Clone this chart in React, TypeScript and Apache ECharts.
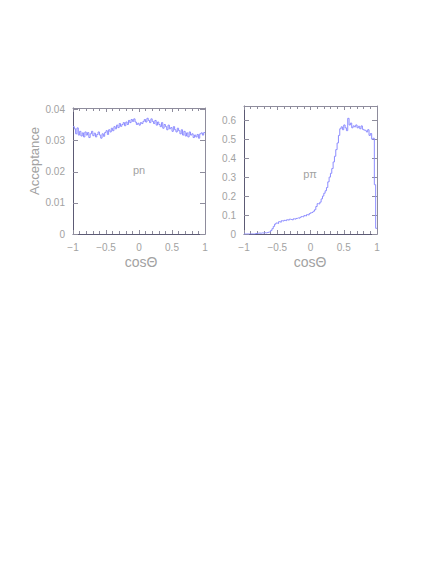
import React, { useEffect, useRef } from "react";
import * as echarts from "echarts";

// 100 bins of width 0.02 over cosθ ∈ [-1, 1]
const binStart = -1;
const binWidth = 0.02;

const pnAcceptance = [
  0.0345, 0.0338, 0.0322, 0.0341, 0.0318, 0.033, 0.0315, 0.0325, 0.0312, 0.0328,
  0.0318, 0.0326, 0.031, 0.0322, 0.033, 0.0316, 0.0324, 0.0312, 0.032, 0.0328,
  0.0318, 0.0308, 0.0322, 0.0314, 0.0326, 0.0332, 0.032, 0.0335, 0.0328, 0.034,
  0.0332, 0.0345, 0.0338, 0.035, 0.0342, 0.0355, 0.0346, 0.0352, 0.0358, 0.0348,
  0.036, 0.0352, 0.0365, 0.0358, 0.0368, 0.0362, 0.037, 0.036, 0.0352, 0.0356,
  0.035, 0.0358, 0.0355, 0.0362, 0.0368, 0.036, 0.0372, 0.0365, 0.0358, 0.037,
  0.0362, 0.0355, 0.0365, 0.035, 0.036, 0.0352, 0.0345, 0.0358, 0.034, 0.0352,
  0.0345, 0.0335, 0.035, 0.0338, 0.0342, 0.033, 0.0345, 0.0335, 0.0328, 0.034,
  0.0332, 0.0322, 0.0335, 0.0318, 0.033, 0.0315, 0.0325, 0.0312, 0.0328, 0.0318,
  0.0322, 0.031, 0.0318, 0.0312, 0.032, 0.0308, 0.0322, 0.0325, 0.0318, 0.0326,
];

const ppiAcceptance = [
  0, 0, 0, 0, 0, 0, 0, 0, 0.002, 0.003,
  0.004, 0.005, 0.004, 0.006, 0.005, 0.007, 0.006, 0.008, 0.01, 0.012,
  0.018, 0.028, 0.04, 0.052, 0.058, 0.055, 0.065, 0.062, 0.07, 0.068,
  0.072, 0.07, 0.075, 0.073, 0.078, 0.076, 0.074, 0.08, 0.078, 0.082,
  0.085, 0.083, 0.088, 0.092, 0.09, 0.097, 0.095, 0.102, 0.1, 0.108,
  0.112, 0.115, 0.12, 0.128, 0.145, 0.16, 0.158, 0.168, 0.185, 0.2,
  0.215, 0.228, 0.245, 0.275, 0.3, 0.32, 0.345, 0.38, 0.41, 0.445,
  0.48, 0.52, 0.555, 0.565, 0.55, 0.575, 0.56, 0.545, 0.61, 0.575,
  0.585, 0.56, 0.57, 0.565, 0.575, 0.56, 0.568, 0.555, 0.57, 0.552,
  0.548, 0.545, 0.538, 0.55, 0.52, 0.53, 0.5, 0.505, 0.26, 0.03,
];

const xTickValues = [-1, -0.5, 0, 0.5, 1];
const pnYTicks = [0, 0.01, 0.02, 0.03, 0.04];
const ppiYTicks = [0, 0.1, 0.2, 0.3, 0.4, 0.5, 0.6];

const panelLabels = ["pn", "pπ"];
const xTitle = "cosΘ";
const yTitle = "Acceptance";

const LINE_COLOR = "#8c8cff";
const AXIS_DARK = "#5c5a74";
const AXIS_LIGHT = "#8e8c9c";
const TEXT_COLOR = "#a2a2a2";
const FONT = "'Liberation Sans', Arial, sans-serif";

function stepData(values: number[]) {
  const pts: number[][] = values.map((v, i) => [binStart + i * binWidth, v]);
  pts.push([binStart + values.length * binWidth, values[values.length - 1]]);
  return pts;
}

function fmtX(v: number) {
  if (v < 0) return "\u2212" + String(Math.abs(v));
  return String(v);
}

export default function App() {
  const ref = useRef<HTMLDivElement>(null);
  useEffect(() => {
    if (!ref.current) return;
    const chart = echarts.init(ref.current, undefined, { renderer: "svg" });

    const grids = [
      { left: 73, top: 108, width: 132, height: 126 },
      { left: 244, top: 106, width: 133, height: 128 },
    ];

    const xAxisBase = (gridIndex: number, position: "top" | "bottom") => ({
      type: "value",
      gridIndex,
      position,
      min: xTickValues[0],
      max: xTickValues[xTickValues.length - 1],
      interval: 0.5,
      axisLine: {
        show: true,
        onZero: false,
        lineStyle: { color: position === "bottom" ? AXIS_DARK : AXIS_LIGHT, width: 1 },
      },
      axisTick: { show: true, inside: true, length: 4, lineStyle: { color: AXIS_LIGHT } },
      minorTick: { show: true, splitNumber: 5, length: 3, lineStyle: { color: AXIS_LIGHT } },
      axisLabel: {
        show: position === "bottom",
        formatter: fmtX,
        color: TEXT_COLOR,
        fontFamily: FONT,
        fontSize: 10,
        margin: 8,
      },
      splitLine: { show: false },
      minorSplitLine: { show: false },
    });

    const yAxisBase = (
      gridIndex: number,
      position: "left" | "right",
      max: number,
      ticks: number[],
      interval: number
    ) => ({
      type: "value",
      gridIndex,
      position,
      min: 0,
      max,
      interval,
      axisLine: {
        show: true,
        onZero: false,
        lineStyle: { color: position === "left" ? AXIS_DARK : AXIS_LIGHT, width: 1 },
      },
      axisTick: {
        show: true,
        inside: true,
        length: 5,
        customValues: ticks,
        lineStyle: { color: AXIS_LIGHT },
      },
      axisLabel: {
        show: position === "left",
        customValues: ticks,
        color: TEXT_COLOR,
        fontFamily: FONT,
        fontSize: 10,
        margin: 8,
        formatter: (v: number) => String(Number(v.toFixed(4))),
      },
      splitLine: { show: false },
    });

    const textStyle = (text: string, size: number) => ({
      text,
      fill: TEXT_COLOR,
      font: `${size}px ${FONT}`,
      align: "center",
      verticalAlign: "middle",
    });

    chart.setOption({
      animation: false,
      backgroundColor: "#ffffff",
      grid: grids,
      xAxis: [
        xAxisBase(0, "bottom"),
        xAxisBase(0, "top"),
        xAxisBase(1, "bottom"),
        xAxisBase(1, "top"),
      ],
      yAxis: [
        yAxisBase(0, "left", 0.0405, pnYTicks, 0.01),
        yAxisBase(0, "right", 0.0405, pnYTicks, 0.01),
        yAxisBase(1, "left", 0.675, ppiYTicks, 0.1),
        yAxisBase(1, "right", 0.675, ppiYTicks, 0.1),
      ],
      series: [
        {
          type: "line",
          xAxisIndex: 0,
          yAxisIndex: 0,
          step: "end",
          data: stepData(pnAcceptance),
          showSymbol: false,
          lineStyle: { color: LINE_COLOR, width: 1 },
        },
        {
          type: "line",
          xAxisIndex: 2,
          yAxisIndex: 2,
          step: "end",
          data: stepData(ppiAcceptance),
          showSymbol: false,
          lineStyle: { color: LINE_COLOR, width: 1 },
        },
      ],
      graphic: [
        { type: "text", x: 34, y: 161, rotation: Math.PI / 2, style: textStyle(yTitle, 13) },
        { type: "text", x: 141, y: 262, style: textStyle(xTitle, 14) },
        { type: "text", x: 310, y: 262, style: textStyle(xTitle, 14) },
        { type: "text", x: 139, y: 170, style: textStyle(panelLabels[0], 11) },
        { type: "text", x: 310, y: 174, style: textStyle(panelLabels[1], 11) },
      ],
    });
    return () => chart.dispose();
  }, []);

  return (
    <div
      ref={ref}
      style={{ position: "fixed", left: 0, top: 0, width: 436, height: 564 }}
    />
  );
}
